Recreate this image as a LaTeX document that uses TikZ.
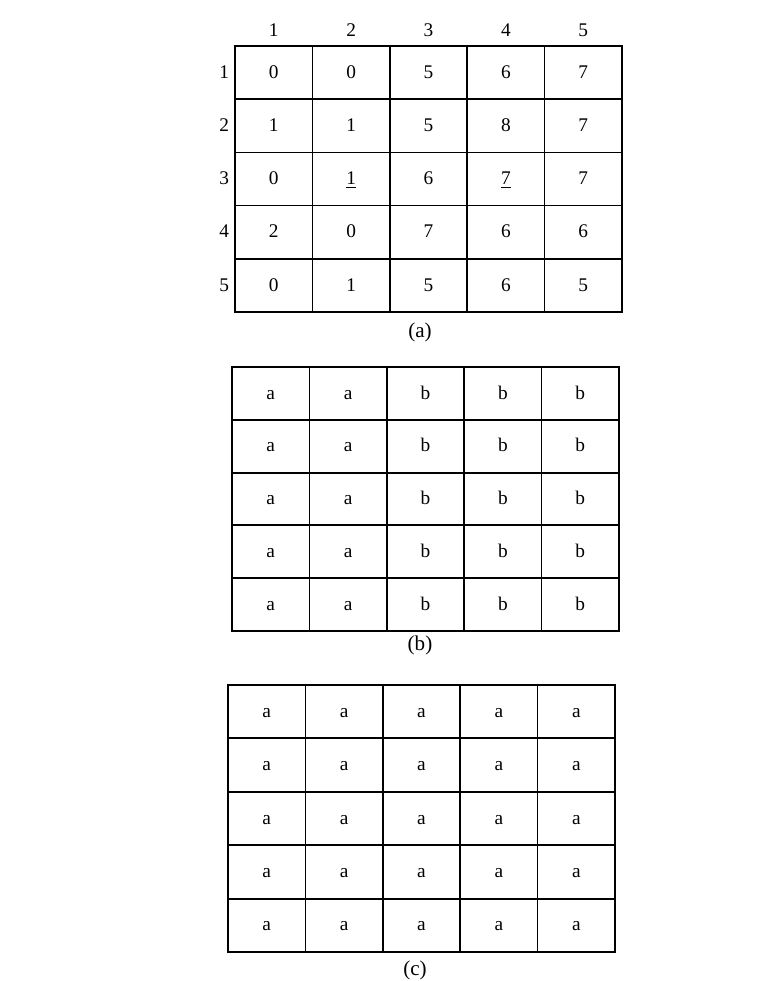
\documentclass[tikz,border=0pt]{standalone}
\usepackage{fontspec}
\setmainfont{Liberation Serif}
\usetikzlibrary{positioning}

\begin{document}
\begin{tikzpicture}[
    x=0.02cm, y=-0.02cm,
    cell/.style={
        rectangle, draw=black, line width=1pt,
        minimum width=1.548cm, minimum height=1.064cm,
        text height=1.6ex, text depth=0.2ex,
        inner sep=0pt, font=\fontsize{11}{13}\selectfont
    },
    idx/.style={font=\fontsize{11}{13}\selectfont, inner sep=1pt, text height=1.6ex, text depth=0.2ex},
    caption/.style={font=\fontsize{12}{14}\selectfont}
]
\useasboundingbox (0,0) rectangle (780,981);

% Grid (a): grey levels
\foreach \row [count=\i] in {{0,0,5,6,7},{1,1,5,8,7},{0,\underline{1},6,\underline{7},7},{2,0,7,6,6},{0,1,5,6,5}} {
    \foreach \v [count=\j] in \row {
        \node[cell] (a-\i-\j) at ({235+77.4*(\j-0.5)},{46+53.2*(\i-0.5)}) {\v};
    }
}

% Row and column numbers
\foreach \k in {1,...,5} {
    \node[idx, above=0.1cm of a-1-\k] (col-\k) {\k};
    \node[idx, left=0.06cm of a-\k-1] (row-\k) {\k};
}
\node[caption] (cap-a) at (420,332) {(a)};

% Grid (b): two regions
\foreach \i in {1,...,5} {
    \foreach \j/\v in {1/a,2/a,3/b,4/b,5/b} {
        \node[cell] (b-\i-\j) at ({232+77.4*(\j-0.5)},{367+52.8*(\i-0.5)}) {\v};
    }
}
\node[caption] (cap-b) at (420,645) {(b)};

% Grid (c): one region
\foreach \i in {1,...,5} {
    \foreach \j in {1,...,5} {
        \node[cell] (c-\i-\j) at ({228+77.4*(\j-0.5)},{685+53.4*(\i-0.5)}) {a};
    }
}
\node[caption] (cap-c) at (415,970) {(c)};

\end{tikzpicture}
\end{document}
